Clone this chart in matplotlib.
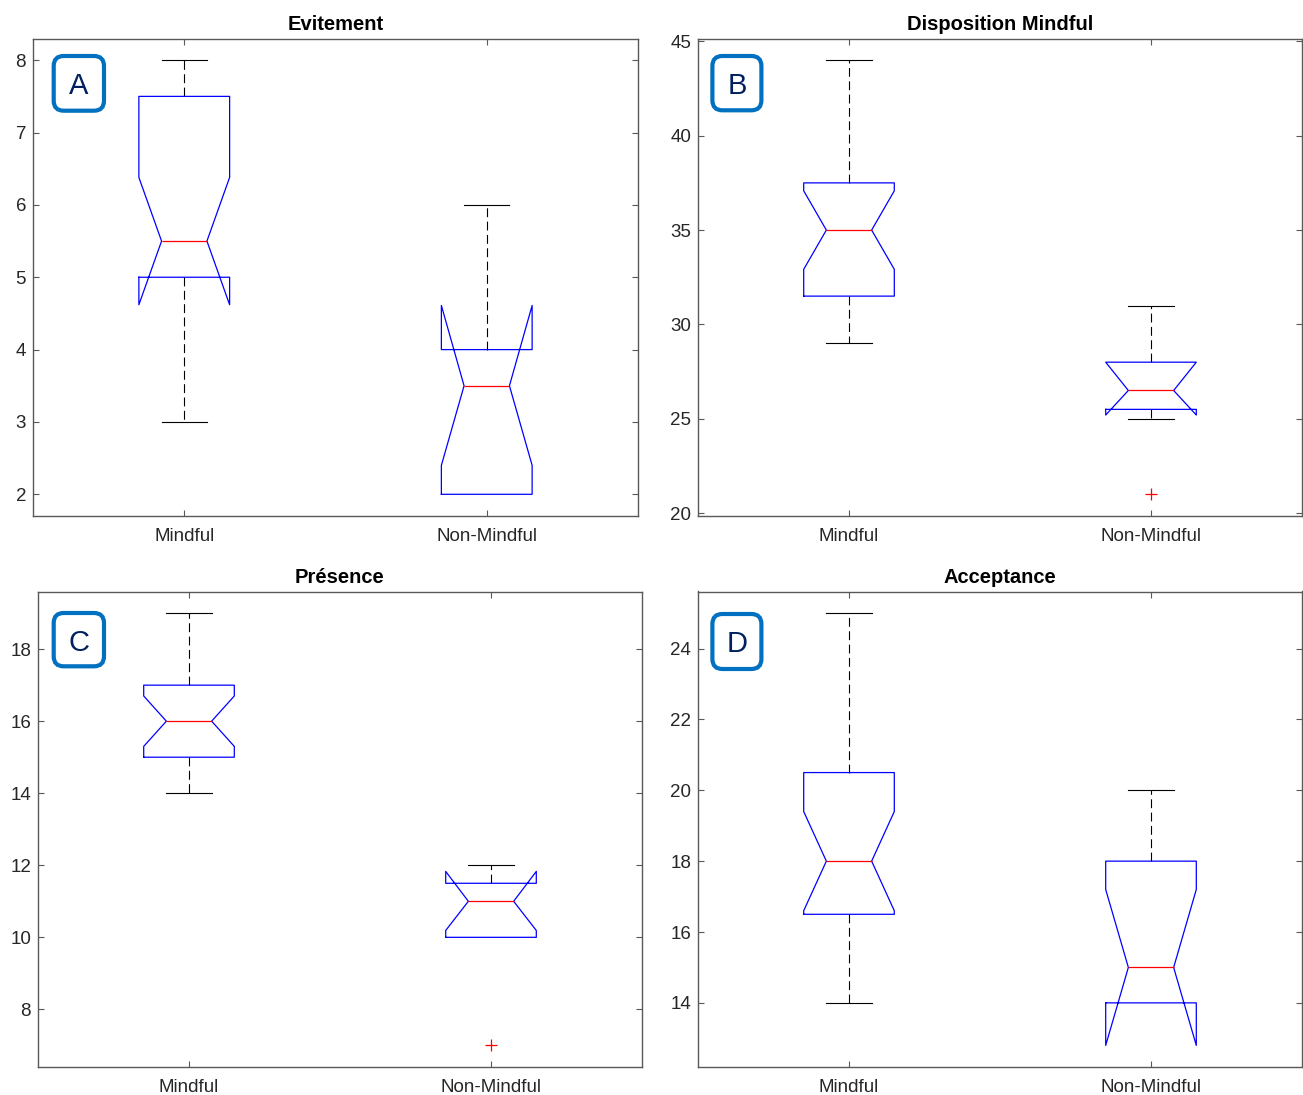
import matplotlib
matplotlib.use("Agg")
import matplotlib.pyplot as plt
from matplotlib.patches import FancyBboxPatch

# ---------------- data ----------------
titles = ["Evitement", "Disposition Mindful", "Présence", "Acceptance"]
groups = ["Mindful", "Non-Mindful"]
panel_letters = ["A", "B", "C", "D"]

medians = [[5.5, 3.5], [35.0, 26.5], [16.0, 11.0], [18.0, 15.0]]
q1_vals = [[5.0, 2.0], [31.5, 25.5], [15.0, 10.0], [16.5, 14.0]]
q3_vals = [[7.5, 4.0], [37.5, 28.0], [17.0, 11.5], [20.5, 18.0]]
whisker_lo = [[3.0, 2.0], [29.0, 25.0], [14.0, 10.0], [14.0, 14.0]]
whisker_hi = [[8.0, 6.0], [44.0, 31.0], [19.0, 12.0], [25.0, 20.0]]
notch_lo = [[4.62, 2.40], [32.92, 25.20], [15.30, 10.19], [16.60, 12.80]]
notch_hi = [[6.38, 4.61], [37.08, 28.00], [16.70, 11.83], [19.40, 17.20]]
outliers = [[[], []], [[], [21.0]], [[], [7.0]], [[], []]]

y_ticks = [[2, 3, 4, 5, 6, 7, 8], [20, 25, 30, 35, 40, 45],
           [8, 10, 12, 14, 16, 18], [14, 16, 18, 20, 22, 24]]
y_limits = [(1.7, 8.3), (19.85, 45.15), (6.4, 19.6), (12.19, 25.61)]

# ---------------- layout ----------------
W, H = 1303, 1095
fig = plt.figure(figsize=(W / 100, H / 100), dpi=100)
plt.rcParams["font.family"] = ["Liberation Sans", "DejaVu Sans"]

# axes rectangles in pixels: left, top, right, bottom
axes_px = [(33, 38.5, 638, 516), (698, 38.5, 1302, 516),
           (38, 591.5, 642, 1067), (698, 591.5, 1302, 1067)]
# label boxes (stroke centre) in pixels: left, top, width, height
label_px = [(53.7, 56, 50.3, 54.7), (712.4, 56, 49, 54.3),
            (53.7, 613, 50.3, 53.3), (712.4, 614, 49, 55)]

axis_col = (0.15, 0.15, 0.15)

for i in range(4):
    l, t, r, b = axes_px[i]
    ax = fig.add_axes([l / W, 1 - b / H, (r - l) / W, (b - t) / H])

    stats = []
    for j in range(2):
        stats.append(dict(med=medians[i][j], q1=q1_vals[i][j], q3=q3_vals[i][j],
                          whislo=whisker_lo[i][j], whishi=whisker_hi[i][j],
                          cilo=notch_lo[i][j], cihi=notch_hi[i][j],
                          fliers=outliers[i][j], label=groups[j]))

    art = ax.bxp(stats, positions=[1, 2], widths=0.3, shownotches=True,
                 boxprops=dict(color=(0, 0, 1), lw=0.9, zorder=3),
                 medianprops=dict(color=(1, 0, 0), lw=0.9, zorder=4),
                 whiskerprops=dict(color="black", lw=0.8, linestyle=(0, (8, 4)), zorder=1),
                 capprops=dict(color="black", lw=0.8, zorder=1),
                 flierprops=dict(marker="+", markeredgecolor=(1, 0, 0), markersize=8,
                                 markeredgewidth=0.9, linestyle="none", zorder=4))
    # a whisker of zero length (whisker end on the box edge) shows no cap
    for j, st in enumerate(stats):
        if st["whislo"] == st["q1"]:
            art["caps"][2 * j].set_visible(False)
            art["whiskers"][2 * j].set_visible(False)
        if st["whishi"] == st["q3"]:
            art["caps"][2 * j + 1].set_visible(False)
            art["whiskers"][2 * j + 1].set_visible(False)

    ax.set_xlim(0.5, 2.5)
    ax.set_ylim(*y_limits[i])
    ax.set_yticks(y_ticks[i])
    ax.set_xticks([1, 2])
    ax.set_xticklabels(groups)
    ax.tick_params(axis="both", direction="in", length=4, width=0.8,
                   colors="0.35", labelcolor=axis_col, labelsize=13.5,
                   top=True, right=True)
    ax.tick_params(axis="x", pad=8.5)
    ax.tick_params(axis="y", pad=5)
    for s in ax.spines.values():
        s.set_color("0.35")
        s.set_linewidth(1.0)
    ax.set_title(titles[i], fontsize=14.5, fontweight="bold", color="black", pad=6)

    # panel letter box
    bx, by, bw, bh = label_px[i]
    patch = FancyBboxPatch((bx / 100, (H - by - bh) / 100), bw / 100, bh / 100,
                           boxstyle="round,pad=0,rounding_size=0.1",
                           transform=fig.dpi_scale_trans, fc="white",
                           ec="#0070C0", lw=3, zorder=10)
    fig.patches.append(patch)
    fig.text((bx + bw / 2) / W, 1 - (by + bh / 2) / H, panel_letters[i],
             ha="center", va="center_baseline", fontsize=21, color="#002060",
             zorder=11)

fig.savefig("out.png", dpi=100, facecolor="white")
